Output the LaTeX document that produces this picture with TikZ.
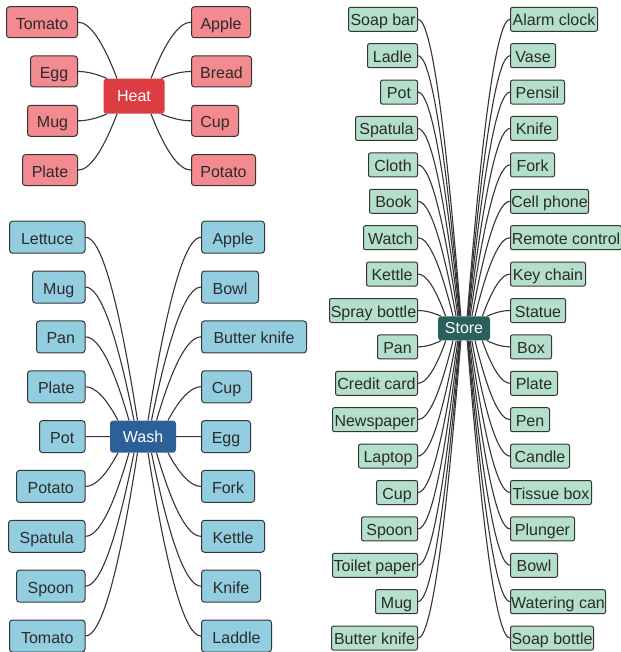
\documentclass[tikz,border=0pt]{standalone}
\usepackage{fontspec}
\setmainfont{Liberation Sans}
\usetikzlibrary{calc,backgrounds}
\definecolor{heatL}{HTML}{F38A8F}
\definecolor{heatH}{HTML}{DA3C42}
\definecolor{washL}{HTML}{92CEE0}
\definecolor{washH}{HTML}{2C6197}
\definecolor{storeL}{HTML}{B3DFCB}
\definecolor{storeH}{HTML}{2A5F5B}
\definecolor{edgec}{HTML}{353535}
\definecolor{txt}{HTML}{2B2B2B}
\newcommand\mmfont{\fontsize{16pt}{19pt}\selectfont}
\newcommand\mmlink[2]{\draw[link] let \p1=(#1), \p2=(#2) in (\p1) .. controls ({\x1+0.3*(\x2-\x1)},{\y1}) and ({\x1+0.6333*(\x2-\x1)},{\y1+0.3333*(\y2-\y1)}) .. (\p2);}
\begin{document}
\begin{tikzpicture}[x=1pt,y=-1pt,
  leaf/.style={draw=edgec, line width=1pt, rounded corners=3pt, inner sep=0pt, text=txt, font=\mmfont, text height=14pt, text depth=0pt},
  heatleaf/.style={leaf, fill=heatL, minimum height=31pt},
  washleaf/.style={leaf, fill=washL, minimum height=32pt},
  storeleaf/.style={leaf, fill=storeL, minimum height=24pt, rounded corners=2pt, text height=13pt},
  hub/.style={rounded corners=3pt, text=white, font=\mmfont, inner sep=0pt, text height=11pt, text depth=0pt},
  link/.style={draw=edgec, line width=1.1pt}]
\useasboundingbox (0,0) rectangle (620,652);

% hubs
\node[hub, fill=heatH, minimum width=61pt, minimum height=35pt] (H) at (134,96.2) {Heat};
\node[hub, fill=washH, minimum width=66pt, minimum height=32pt] (W) at (143,436.6) {Wash};
\node[hub, fill=storeH, minimum width=52pt, minimum height=24pt] (S) at (464,328.4) {Store};

% Heat
\foreach \t/\w/\e/\a [count=\i from 0] in {Tomato/71/-17/north, Egg/47/-27/north, Mug/50/-27/south, Plate/55/-17/south}{
  \node[heatleaf, minimum width=\w pt, anchor=east] (hl\i) at (78,{22.2+49.3*\i}) {\t};
  \begin{pgfonlayer}{background}\mmlink{hl\i.east}{[xshift=\e pt]H.\a}\end{pgfonlayer}
}
\foreach \t/\w/\e/\a [count=\i from 0] in {Apple/59/17/north, Bread/60/27/north, Cup/47/27/south, Potato/64/17/south}{
  \node[heatleaf, minimum width=\w pt, anchor=west] (hr\i) at (191,{22.2+49.3*\i}) {\t};
  \begin{pgfonlayer}{background}\mmlink{hr\i.west}{[xshift=\e pt]H.\a}\end{pgfonlayer}
}

% Wash
\foreach \t/\w/\e/\a [count=\i from 0] in {Lettuce/75.5/-5.5/north, Mug/52.5/-9/north, Pan/48.5/-14/north, Plate/57.5/-25/north, Pot/45.5/0/west, Potato/68.5/-25/south, Spatula/76.5/-14/south, Spoon/68.5/-9/south, Tomato/75.5/-5.5/south}{
  \node[washleaf, minimum width=\w pt, anchor=east] (wl\i) at (85.5,{237.2+49.85*\i}) {\t};
  \begin{pgfonlayer}{background}\mmlink{wl\i.east}{[xshift=\e pt]W.\a}\end{pgfonlayer}
}
\foreach \t/\w/\e/\a [count=\i from 0] in {Apple/63/5/north, Bowl/57/8.5/north, Butter knife/105/13.5/north, Cup/50/25/north, Egg/49/0/east, Fork/53/25/south, Kettle/63/13.5/south, Knife/59/8.5/south, Laddle/70/5/south}{
  \node[washleaf, minimum width=\w pt, anchor=west] (wr\i) at (201,{237.2+49.85*\i}) {\t};
  \begin{pgfonlayer}{background}\mmlink{wr\i.west}{[xshift=\e pt]W.\a}\end{pgfonlayer}
}

% Store
\foreach \t/\w/\e/\a [count=\i from 0] in {Soap bar/69/-3.2/north, Ladle/50/-3.7/north, Pot/37/-4.2/north, Spatula/62/-5/north, Cloth/49/-6.1/north, Book/48/-7.9/north, Watch/54/-11/north, Kettle/51/-18.4/north, Spray bottle/88/-23/north, Pan/40/-23/south, Credit card/82/-18.2/south, Newspaper/85/-11/south, Laptop/59/-7.8/south, Cup/41/-6.1/south, Spoon/56/-5/south, Toilet paper/85/-4.2/south, Mug/42/-3.7/south, Butter knife/86/-3.2/south}{
  \node[storeleaf, minimum width=\w pt, anchor=east] (sl\i) at (418,{19.3+36.4*\i}) {\t};
  \begin{pgfonlayer}{background}\mmlink{sl\i.east}{[xshift=\e pt]S.\a}\end{pgfonlayer}
}
\foreach \t/\w/\e/\a [count=\i from 0] in {Alarm clock/87/3.2/north, Vase/45/3.7/north, Pensil/54/4.2/north, Knife/47/5/north, Fork/44/6.1/north, Cell phone/78/7.9/north, Remote control/111/11/north, Key chain/75/18.4/north, Statue/55/23/north, Box/41/23/south, Plate/47/18.2/south, Pen/39/11/south, Candle/59/7.8/south, Tissue box/81/6.1/south, Plunger/64/5/south, Bowl/47/4.2/south, Watering can/95/3.7/south, Soap bottle/83/3.2/south}{
  \node[storeleaf, minimum width=\w pt, anchor=west] (sr\i) at (510,{19.3+36.4*\i}) {\t};
  \begin{pgfonlayer}{background}\mmlink{sr\i.west}{[xshift=\e pt]S.\a}\end{pgfonlayer}
}
\end{tikzpicture}
\end{document}
